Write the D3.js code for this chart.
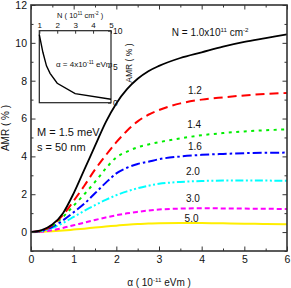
<!DOCTYPE html>
<html>
<head>
<meta charset="utf-8">
<script src="https://cdn.jsdelivr.net/npm/d3@7"></script>
<style>
body { margin: 0; background: #fff; }
text { font-family: "Liberation Sans", Arial, sans-serif; fill: #111; }
.axis line { stroke: #333; stroke-width: 1; }
</style>
</head>
<body>
<script>
const w = 291;
const h = 288;
const padL = 31, padR = 287, padT = 5, padB = 251;

// alpha in 10^-11 eVm
const alpha = [0, 0.25, 0.5, 0.75, 1, 1.25, 1.5, 1.75, 2, 2.25, 2.5, 2.75, 3, 3.5, 4, 4.5, 5, 5.5, 6];
const amrN10 = [0, 0.1, 0.4, 1.0, 2.05, 3.3, 4.55, 5.8, 6.8, 7.55, 8.1, 8.5, 8.78, 9.2, 9.5, 9.8, 10.05, 10.25, 10.45];
const amrN12 = [0, 0.08, 0.37, 0.9, 1.65, 2.45, 3.3, 4.05, 4.75, 5.35, 5.85, 6.2, 6.45, 6.8, 7.0, 7.12, 7.22, 7.3, 7.35];
const amrN14 = [0, 0.07, 0.33, 0.8, 1.4, 2.0, 2.65, 3.35, 3.95, 4.25, 4.48, 4.63, 4.75, 4.95, 5.12, 5.23, 5.32, 5.38, 5.43];
const amrN16 = [0, 0.06, 0.28, 0.62, 1.05, 1.5, 2.05, 2.6, 3.1, 3.4, 3.6, 3.72, 3.85, 4.0, 4.08, 4.13, 4.17, 4.19, 4.2];
const amrN20 = [0, 0.05, 0.22, 0.48, 0.8, 1.12, 1.42, 1.7, 1.95, 2.15, 2.32, 2.45, 2.55, 2.65, 2.7, 2.72, 2.72, 2.72, 2.71];
const amrN30 = [0, 0.02, 0.1, 0.22, 0.36, 0.5, 0.64, 0.77, 0.89, 0.99, 1.07, 1.14, 1.19, 1.24, 1.26, 1.25, 1.24, 1.23, 1.22];
const amrN50 = [0, 0.01, 0.04, 0.08, 0.13, 0.18, 0.24, 0.29, 0.34, 0.39, 0.43, 0.45, 0.47, 0.48, 0.48, 0.46, 0.44, 0.43, 0.41];

const seriesLabels = ["1.0", "1.2", "1.4", "1.6", "2.0", "3.0", "5.0"];
// where each curve label sits, in data units (alpha, AMR)
const labelAlpha = [3.3, 3.68, 3.66, 3.68, 3.63, 3.63, 3.6];
const labelAmr = [10.34, 7.3, 5.5, 4.33, 2.99, 1.59, 0.53];

const xTicks = [0, 1, 2, 3, 4, 5, 6];
const xMinor = [0.5, 1.5, 2.5, 3.5, 4.5, 5.5];
const yTicks = [0, 2, 4, 6, 8, 10, 12];
const yMinor = [-1, 1, 3, 5, 7, 9, 11];

// inset: AMR vs N at alpha = 4
const insetN = [1.0, 1.2, 1.4, 1.6, 2.0, 3.0, 5.0];
const insetAmr = [9.45, 7.0, 5.12, 4.08, 2.7, 1.26, 0.47];
const insetXTicks = [1, 2, 3, 4, 5];
const insetYTicks = [0, 5, 10];

const colors = ["#000000", "#ff0000", "#00ee00", "#0000ff", "#00ffff", "#ff00ff", "#ffee00"];
const dashes = [null, "9,5", "3,4.5", "9,3,2.5,3", "8,2.5,2,2.5,2,2.5", "5,3", null];

const series = [amrN10, amrN12, amrN14, amrN16, amrN20, amrN30, amrN50];

const svg = d3.select("body")
              .append("svg")
              .attr("width", w)
              .attr("height", h);

const xScale = d3.scaleLinear().domain([0, 6]).range([padL, padR]);
const yScale = d3.scaleLinear().domain([-1, 12]).range([padB, padT]);

function richText(t, parts, size) {
  let shift = 0;
  parts.forEach(([str, up]) => {
    const target = up ? -size * 0.4 : 0;
    t.append("tspan")
     .text(str)
     .attr("dy", target - shift)
     .attr("font-size", up ? size * 0.62 : size);
    shift = target;
  });
}

function noDomain(g) { g.select(".domain").remove(); }

// curves
const line = d3.line()
               .x((d, i) => xScale(alpha[i]))
               .y(d => yScale(d))
               .curve(d3.curveMonotoneX);

series.slice().reverse().forEach((vals, k) => {
  const i = series.length - 1 - k;
  svg.append("path")
     .datum(vals)
     .attr("d", line)
     .attr("fill", "none")
     .attr("stroke", colors[i])
     .attr("stroke-width", i == 0 ? 1.8 : 2)
     .attr("stroke-dasharray", dashes[i]);
});

// axes (ticks pointing inward)
svg.append("g").attr("class", "axis")
   .attr("transform", "translate(0," + padB + ")")
   .call(d3.axisBottom(xScale).tickValues(xTicks).tickSize(-4.5).tickSizeOuter(0).tickPadding(5).tickFormat(d3.format("d")))
   .call(noDomain);
svg.append("g").attr("class", "axis")
   .attr("transform", "translate(0," + padB + ")")
   .call(d3.axisBottom(xScale).tickValues(xMinor).tickSize(-2.5).tickFormat(""))
   .call(noDomain);
svg.append("g").attr("class", "axis")
   .attr("transform", "translate(0," + padT + ")")
   .call(d3.axisTop(xScale).tickValues(xTicks).tickSize(-4.5).tickFormat(""))
   .call(noDomain);
svg.append("g").attr("class", "axis")
   .attr("transform", "translate(0," + padT + ")")
   .call(d3.axisTop(xScale).tickValues(xMinor).tickSize(-2.5).tickFormat(""))
   .call(noDomain);

svg.append("g").attr("class", "axis")
   .attr("transform", "translate(" + padL + ",0)")
   .call(d3.axisLeft(yScale).tickValues(yTicks).tickSize(-4.5).tickPadding(4).tickFormat(d3.format("d")))
   .call(noDomain);
svg.append("g").attr("class", "axis")
   .attr("transform", "translate(" + padL + ",0)")
   .call(d3.axisLeft(yScale).tickValues(yMinor).tickSize(-2.5).tickFormat(""))
   .call(noDomain);
svg.append("g").attr("class", "axis")
   .attr("transform", "translate(" + padR + ",0)")
   .call(d3.axisRight(yScale).tickValues(yTicks).tickSize(-4.5).tickFormat(""))
   .call(noDomain);
svg.append("g").attr("class", "axis")
   .attr("transform", "translate(" + padR + ",0)")
   .call(d3.axisRight(yScale).tickValues(yMinor).tickSize(-2.5).tickFormat(""))
   .call(noDomain);

svg.selectAll(".axis text").attr("font-size", 10.5);

svg.append("rect")
   .attr("x", padL).attr("y", padT)
   .attr("width", padR - padL).attr("height", padB - padT)
   .attr("fill", "none")
   .attr("stroke", "#333")
   .attr("stroke-width", 1.6);

// axis titles
svg.append("text")
   .attr("transform", "translate(8.5," + ((padT + padB) / 2) + ") rotate(-90)")
   .attr("text-anchor", "middle")
   .attr("font-size", 10)
   .text("AMR ( % )");

richText(svg.append("text")
            .attr("x", (padL + padR) / 2)
            .attr("y", 286)
            .attr("text-anchor", "middle"),
         [["α ( 10", false], ["-11", true], [" eVm )", false]], 10);

// curve labels
seriesLabels.forEach((lab, i) => {
  const t = svg.append("text")
               .attr("x", xScale(labelAlpha[i]))
               .attr("y", yScale(labelAmr[i]));
  if (i == 0) {
    richText(t, [["N = " + lab + "x10", false], ["11", true], [" cm", false], ["-2", true]], 10);
  } else {
    t.attr("font-size", 10).text(lab);
  }
});

svg.append("text")
   .attr("x", xScale(0.14)).attr("y", yScale(5.08))
   .attr("font-size", 11)
   .text("M = 1.5 meV");
svg.append("text")
   .attr("x", xScale(0.14)).attr("y", yScale(4.31))
   .attr("font-size", 11)
   .text("s = 50 nm");

// inset
const xi = d3.scaleLinear().domain([1, 5]).range([39.3, 111]);
const yi = d3.scaleLinear().domain([0, 10]).range([102.7, 30.7]);

svg.append("rect")
   .attr("x", xi(1)).attr("y", yi(10))
   .attr("width", xi(5) - xi(1)).attr("height", yi(0) - yi(10))
   .attr("fill", "#fff")
   .attr("stroke", "#222")
   .attr("stroke-width", 1.2);

svg.append("path")
   .datum(insetAmr)
   .attr("d", d3.line().x((d, i) => xi(insetN[i])).y(d => yi(d)))
   .attr("fill", "none")
   .attr("stroke", "#000")
   .attr("stroke-width", 1.4);

svg.append("g").attr("class", "axis")
   .attr("transform", "translate(0," + yi(10) + ")")
   .call(d3.axisTop(xi).tickValues(insetXTicks).tickSize(-3).tickPadding(2.5).tickFormat(d3.format("d")))
   .call(noDomain)
   .selectAll("text").attr("font-size", 8);
svg.append("g").attr("class", "axis")
   .attr("transform", "translate(" + xi(5) + ",0)")
   .call(d3.axisRight(yi).tickValues(insetYTicks).tickSize(-3).tickPadding(2).tickFormat(d3.format("d")))
   .call(noDomain)
   .selectAll("text").attr("font-size", 8.5);

richText(svg.append("text")
            .attr("x", (xi(1) + xi(5)) / 2 + 5)
            .attr("y", 18)
            .attr("text-anchor", "middle"),
         [["N ( 10", false], ["11", true], [" cm", false], ["-2", true], [" )", false]], 7.5);

svg.append("text")
   .attr("transform", "translate(132," + yi(5.5) + ") rotate(-90)")
   .attr("text-anchor", "middle")
   .attr("font-size", 8.5)
   .text("AMR ( % )");

richText(svg.append("text")
            .attr("x", xi(1.93))
            .attr("y", yi(4.96)),
         [["α = 4x10", false], ["-11", true], [" eVm", false]], 8);
</script>
</body>
</html>
